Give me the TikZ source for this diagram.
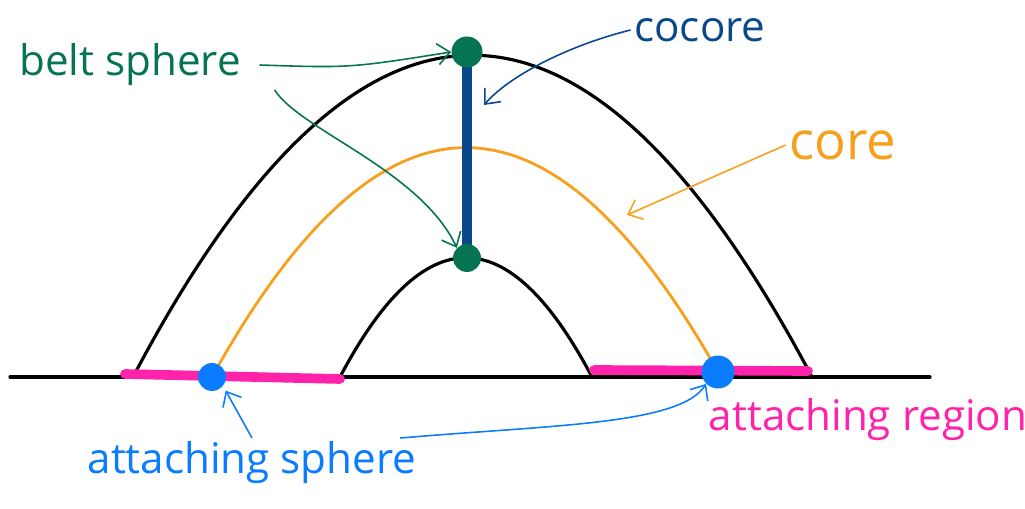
\documentclass[tikz,border=0pt]{standalone}
\usepackage{fontspec}
\setmainfont{Open Sans}
\usetikzlibrary{arrows.meta, positioning}
\definecolor{beltgreen}{RGB}{6,116,82}
\definecolor{cocoreblue}{RGB}{10,72,140}
\definecolor{coreorange}{RGB}{247,160,30}
\definecolor{attblue}{RGB}{10,124,255}
\definecolor{regionpink}{RGB}{255,34,170}

\begin{document}
\begin{tikzpicture}[x=0.02cm, y=-0.02cm]
\tikzset{
    every node/.style={align=center},
    label text/.style={font=\fontsize{24}{28}\selectfont, inner sep=2pt},
    hand arrow/.style={-{Straight Barb[length=7pt, width=12pt]}, line width=0.9pt},
    arch/.style={line width=1.8pt, line cap=round},
    dot/.style={circle, inner sep=0pt, minimum size=#1}
}
\useasboundingbox (0,0) rectangle (1025,509);

% ground line and handles
\draw[arch] (10,377) -- (930,377);
\draw[arch] (133,377) .. controls (359,-52) and (585,-52) .. (812,377);
\draw[arch] (340,377) .. controls (424,218) and (508,218) .. (592,377);
\draw[arch, coreorange, line width=1.6pt] (212,377) .. controls (381,72) and (549,72) .. (718,372);

% attaching region
\draw[regionpink, line width=5.5pt, line cap=round] (125,374) -- (340,379);
\draw[regionpink, line width=5.5pt, line cap=round] (594,370) -- (808,371);

% cocore
\draw[cocoreblue, line width=5.5pt] (467,55) -- (467,258);

% spheres
\node[dot=0.62cm, fill=beltgreen] (beltT) at (467,52) {};
\node[dot=0.56cm, fill=beltgreen] (beltB) at (467,258) {};
\node[dot=0.56cm, fill=attblue] (attL) at (212,377) {};
\node[dot=0.66cm, fill=attblue] (attR) at (718,372) {};

% labels
\node[label text, text=beltgreen] (belt) at (130,65) {belt sphere};
\node[label text, text=cocoreblue] (cocore) at (700,30) {cocore};
\node[label text, text=coreorange, font=\fontsize{30}{34}\selectfont] (core) at (843,145) {core};
\node[label text, text=attblue] (attS) at (252,463) {attaching sphere};
\node[label text, text=regionpink] (region) at (868,420) {attaching region};

\coordinate (cocoreTip) at (484,105);
\coordinate (coreTip) at (627,215);

% arrows
\draw[hand arrow, beltgreen] ([xshift=0.3cm]belt.east) .. controls (350,68) .. (beltT.west);
\draw[hand arrow, beltgreen] ([xshift=0.6cm]belt.south east) .. controls (300,130) and (420,170) .. (beltB.north west);
\draw[hand arrow, cocoreblue] (cocore.west) .. controls (570,45) and (510,75) .. (cocoreTip);
\draw[hand arrow, coreorange] (core.west) -- (coreTip);
\draw[hand arrow, attblue] (attS.north) -- ([shift={(2pt,-2pt)}]attL.south east);
\draw[hand arrow, attblue] ([xshift=-0.4cm]attS.north east) .. controls (550,425) and (680,425) .. (attR.south west);
\end{tikzpicture}
\end{document}
